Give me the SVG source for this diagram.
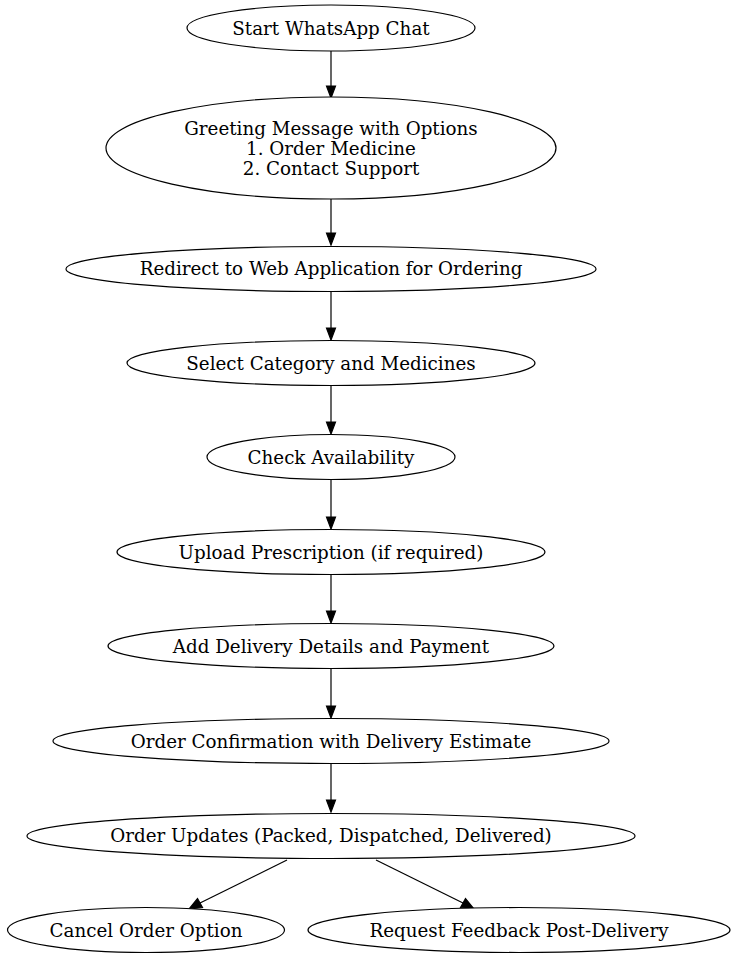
<svg xmlns="http://www.w3.org/2000/svg" width="736" height="960" viewBox="0 0 736 960">
<defs>
<style>
.n ellipse{fill:#fff;stroke:#000;stroke-width:1.2}
.n text{font-family:"DejaVu Serif",serif;font-size:18.3px;text-anchor:middle;fill:#000}
.e line{stroke:#000;stroke-width:1.2}
.e polygon{fill:#000;stroke:#000;stroke-width:1.2}
</style>
</defs>
<rect width="736" height="960" fill="#fff"/>
<g id="edges" class="e">
<line x1="331" y1="51" x2="331" y2="86"/><polygon points="326.5,86 335.5,86 331,98"/>
<line x1="331" y1="199" x2="331" y2="233"/><polygon points="326.5,233 335.5,233 331,245"/>
<line x1="331" y1="291" x2="331" y2="328"/><polygon points="326.5,328 335.5,328 331,340"/>
<line x1="331" y1="386" x2="331" y2="422"/><polygon points="326.5,422 335.5,422 331,434"/>
<line x1="331" y1="480" x2="331" y2="517"/><polygon points="326.5,517 335.5,517 331,529"/>
<line x1="331" y1="575" x2="331" y2="611"/><polygon points="326.5,611 335.5,611 331,623"/>
<line x1="331" y1="669" x2="331" y2="706"/><polygon points="326.5,706 335.5,706 331,718"/>
<line x1="331" y1="764" x2="331" y2="800"/><polygon points="326.5,800 335.5,800 331,812"/>
<line x1="287" y1="860" x2="200" y2="903"/><polygon points="197.5,898.5 202.5,907.5 189,909"/>
<line x1="376" y1="860" x2="463" y2="903"/><polygon points="460.5,907.5 465.5,898.5 474,909"/>
</g>
<g id="n1" class="n"><ellipse cx="331" cy="28" rx="144" ry="23"/><text x="331" y="35">Start WhatsApp Chat</text></g>
<g id="n2" class="n"><ellipse cx="331" cy="148" rx="225" ry="51"/><text x="331" y="135">Greeting Message with Options</text><text x="331" y="155">1. Order Medicine</text><text x="331" y="175">2. Contact Support</text></g>
<g id="n3" class="n"><ellipse cx="331" cy="269" rx="265" ry="22.5"/><text x="331" y="275">Redirect to Web Application for Ordering</text></g>
<g id="n4" class="n"><ellipse cx="331" cy="363" rx="204" ry="22.5"/><text x="331" y="370">Select Category and Medicines</text></g>
<g id="n5" class="n"><ellipse cx="331" cy="457" rx="124" ry="22.5"/><text x="331" y="464">Check Availability</text></g>
<g id="n6" class="n"><ellipse cx="331" cy="552" rx="214" ry="22.5"/><text x="331" y="559">Upload Prescription (if required)</text></g>
<g id="n7" class="n"><ellipse cx="331" cy="646" rx="223" ry="22.5"/><text x="331" y="653">Add Delivery Details and Payment</text></g>
<g id="n8" class="n"><ellipse cx="331" cy="741" rx="278" ry="22.5"/><text x="331" y="748">Order Confirmation with Delivery Estimate</text></g>
<g id="n9" class="n"><ellipse cx="331" cy="836" rx="304" ry="22.5"/><text x="331" y="842">Order Updates (Packed, Dispatched, Delivered)</text></g>
<g id="n10" class="n"><ellipse cx="146" cy="930" rx="138.5" ry="22.5"/><text x="146" y="937">Cancel Order Option</text></g>
<g id="n11" class="n"><ellipse cx="519" cy="930" rx="211" ry="22.5"/><text x="519" y="937">Request Feedback Post-Delivery</text></g>
</svg>
